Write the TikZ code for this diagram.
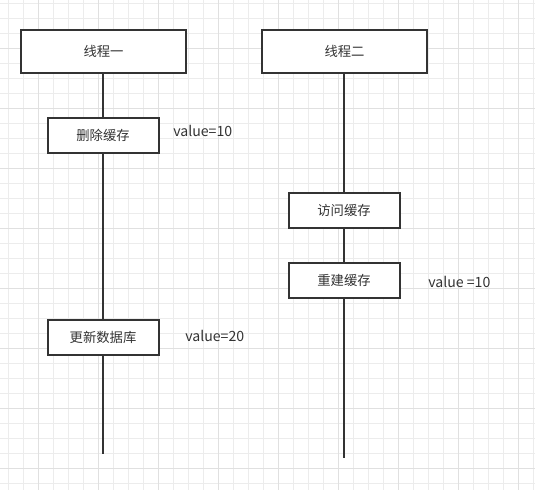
\documentclass[tikz,border=0pt]{standalone}
\usepackage{fontspec}
\setmainfont{Noto Sans CJK SC}
\definecolor{gminor}{RGB}{236,236,236}
\definecolor{gmajor}{RGB}{224,224,224}
\definecolor{ink}{RGB}{51,51,51}
\begin{document}
\begin{tikzpicture}[x=0.75pt,y=-0.75pt,
  box/.style={draw=ink, line width=1.5pt, fill=white, minimum width=123.75pt, minimum height=32.25pt, inner sep=0pt, font=\fontsize{10}{12}\selectfont, text=ink},
  op/.style={box, minimum width=83.25pt, minimum height=26.25pt},
  life/.style={draw=ink, line width=1.5pt},
  val/.style={font=\fontsize{10.6}{12}\selectfont, text=ink, anchor=west, inner sep=0pt}]
\useasboundingbox (0,0) rectangle (535,490);
\fill[white] (0,0) rectangle (535,490);
\foreach \x in {8,23,...,533} \draw[gminor, line width=0.75pt] (\x,0) -- (\x,490);
\foreach \y in {3,18,...,488} \draw[gminor, line width=0.75pt] (0,\y) -- (535,\y);
\foreach \x in {38,98,...,518} \draw[gmajor, line width=0.75pt] (\x,0) -- (\x,490);
\foreach \y in {48,108,...,468} \draw[gmajor, line width=0.75pt] (0,\y) -- (535,\y);

\node[box] (t1) at (103.5,51) {线程一};
\node[box] (t2) at (344.5,51) {线程二};
\node[op] (del) at (103,135.5) {删除缓存};
\node[op] (upd) at (103,337) {更新数据库};
\node[op] (acc) at (344,210.5) {访问缓存};
\node[op] (reb) at (344,280.5) {重建缓存};
\coordinate (e1) at (103,454);
\coordinate (e2) at (344,458);

\draw[life] (del.north) -- (del.north |- t1.south);
\draw[life] (del.south) -- (upd.north);
\draw[life] (upd.south) -- (e1);
\draw[life] (acc.north) -- (acc.north |- t2.south);
\draw[life] (acc.south) -- (reb.north);
\draw[life] (reb.south) -- (e2);

\node[val] (v1) at (173,131) {value=10};
\node[val] (v2) at (185,336) {value=20};
\node[val] (v3) at (428,282) {value =10};
\end{tikzpicture}
\end{document}
